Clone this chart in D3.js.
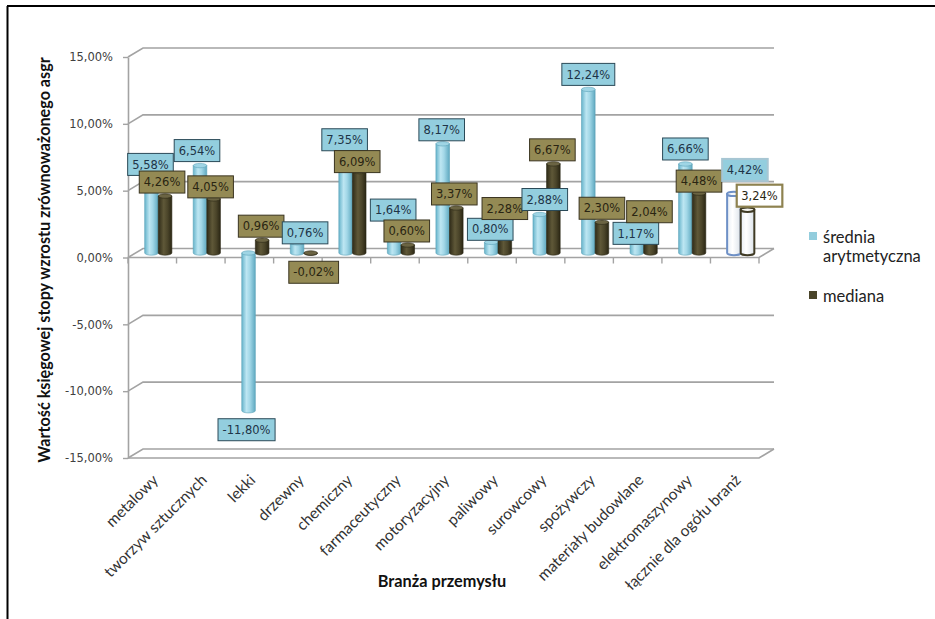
<!DOCTYPE html>
<html>
<head>
<meta charset="utf-8">
<script src="https://cdn.jsdelivr.net/npm/d3@7"></script>
<style>
  html, body { margin: 0; padding: 0; background: #fff; }
  svg { display: block; }
</style>
</head>
<body>
<svg id="chart" width="935" height="619"></svg>
<script>
// Industry sectors and the two series (percent values)
const categories = [
  "metalowy", "tworzyw sztucznych", "lekki", "drzewny", "chemiczny",
  "farmaceutyczny", "motoryzacyjny", "paliwowy", "surowcowy", "spożywczy",
  "materiały budowlane", "elektromaszynowy", "łącznie dla ogółu branż"
];
const srednia = [5.58, 6.54, -11.80, 0.76, 7.35, 1.64, 8.17, 0.80, 2.88, 12.24, 1.17, 6.66, 4.42];
const mediana = [4.26, 4.05, 0.96, -0.02, 6.09, 0.60, 3.37, 2.28, 6.67, 2.30, 2.04, 4.48, 3.24];
const seriesNames = ["średnia arytmetyczna", "mediana"];
const yTicks = [-15, -10, -5, 0, 5, 10, 15];
const yTitle = "Wartość księgowej stopy wzrostu zrównoważonego asgr";
const xTitle = "Branża przemysłu";

// Hand-placed nudges of the value boxes (px, from the end of each column)
const nudgeSrednia = [[-1,-14],[-3,-15],[-2,19],[8,-10],[-1,-15],[-1,-21],[-1,-14],[-1,-13],[5,-15],[0,-15],[-1,-4],[0,-15],[11,-24]];
const nudgeMediana = [[-3,-14],[-3,-12],[-1,-14],[3,19],[-2,-10],[-1,-14],[-2,-14],[0,-14],[-1,-14],[0,-14],[-1,-14],[0,-12],[12,-14]];

const svg = d3.select("#chart");
const locale = d3.formatLocale({decimal: ",", thousands: " ", grouping: [3], currency: ["", ""], minus: "-"});
const pct = v => locale.format(".2f")(v) + "%";

// Front plane scales; the back wall is shifted by (DX, DY)
const y = d3.scaleLinear().domain([-15, 15]).range([458, 57]);
const x = d3.scaleBand().domain(categories).range([128, 759]);
const DX = 15, DY = -9;          // depth of the 3D box
const MX = 6, MY = -4.5;         // column plane (middle depth)
const BW = 13.6;                 // column width
const RY = 2.2;                  // ellipse radius of column caps

// Frame
svg.append("line").attr("x1", 7).attr("x2", 935).attr("y1", 6).attr("y2", 6)
  .attr("stroke", "#000").attr("stroke-width", 2);
svg.append("line").attr("x1", 7.5).attr("x2", 7.5).attr("y1", 6).attr("y2", 619)
  .attr("stroke", "#000").attr("stroke-width", 2);

// Gradients
const defs = svg.append("defs");
function grad(id, stops) {
  const g = defs.append("linearGradient").attr("id", id).attr("x1", 0).attr("x2", 1).attr("y1", 0).attr("y2", 0);
  stops.forEach(([o, c]) => g.append("stop").attr("offset", o).attr("stop-color", c));
}
grad("gLight", [[0, "#67B4CB"], [0.35, "#BDE6F2"], [0.6, "#A2D7E7"], [1, "#5FA9C0"]]);
grad("gDark", [[0, "#2F2B18"], [0.4, "#5F5838"], [0.7, "#4A4429"], [1, "#2A2614"]]);
grad("gHollow", [[0, "#E8EEF4"], [0.4, "#FFFFFF"], [1, "#DCE3EA"]]);

const gridColor = "#A3A3A3";
const x0 = x.range()[0], x1 = x.range()[1];

// Back wall gridlines with their depth diagonals
const grid = svg.append("g");
yTicks.forEach(t => {
  const yy = y(t);
  grid.append("path")
    .attr("d", `M${x0},${yy} L${x0 + DX},${yy + DY} L${x1 + DX},${yy + DY}`)
    .attr("fill", "none").attr("stroke", gridColor).attr("stroke-width", 1.6);
});
// Floor at zero and at the bottom of the axis
[0, -15].forEach(t => {
  const yy = y(t);
  grid.append("path")
    .attr("d", `M${x0},${yy} L${x1},${yy} L${x1 + DX},${yy + DY}`)
    .attr("fill", "none").attr("stroke", gridColor).attr("stroke-width", 1.6);
});
// Category tick marks under the zero line
const bounds = categories.map(c => x(c)).concat([x1]);
grid.selectAll(".xtick").data(bounds).join("line")
  .attr("x1", d => d).attr("x2", d => d)
  .attr("y1", y(0)).attr("y2", y(0) + 6)
  .attr("stroke", gridColor).attr("stroke-width", 1.4);

// Cylinder drawing
function cylinder(g, cx, v, kind) {
  const yA = y(0) + MY, yB = y(v) + MY;
  const top = Math.min(yA, yB), bot = Math.max(yA, yB);
  const l = cx - BW / 2, r = cx + BW / 2, rx = BW / 2;
  let fill, stroke, capFill, sw;
  if (kind === "light") { fill = "url(#gLight)"; stroke = "#5DA3B9"; capFill = "#9FD5E5"; sw = 0.6; }
  else if (kind === "dark") { fill = "url(#gDark)"; stroke = "#2A2614"; capFill = "#6B6443"; sw = 0.6; }
  else if (kind === "hollowLight") { fill = "url(#gHollow)"; stroke = "#6E90C6"; capFill = "#F4F7FA"; sw = 2; }
  else { fill = "url(#gHollow)"; stroke = "#3F3A24"; capFill = "#F4F4F0"; sw = 2; }
  g.append("path")
    .attr("d", `M${l},${top} L${l},${bot} A${rx},${RY} 0 0 0 ${r},${bot} L${r},${top} Z`)
    .attr("fill", fill).attr("stroke", stroke).attr("stroke-width", sw);
  g.append("ellipse").attr("cx", cx).attr("cy", top).attr("rx", rx).attr("ry", RY)
    .attr("fill", capFill).attr("stroke", stroke).attr("stroke-width", sw);
}

const bars = svg.append("g");
categories.forEach((c, i) => {
  const base = x(c) + x.bandwidth() / 2 + MX;
  const last = i === categories.length - 1;
  cylinder(bars, base - BW / 2, srednia[i], last ? "hollowLight" : "light");
  cylinder(bars, base + BW / 2, mediana[i], last ? "hollowDark" : "dark");
});

// Front vertical axis with tick labels
const yAxis = d3.axisLeft(y).tickValues(yTicks).tickFormat(pct)
  .tickSizeInner(5).tickSizeOuter(0).tickPadding(10);
const ax = svg.append("g").attr("transform", `translate(${x0},0)`).call(yAxis);
ax.select(".domain").attr("stroke", gridColor).attr("stroke-width", 1.6);
ax.selectAll(".tick line").attr("stroke", gridColor).attr("stroke-width", 1.4);
ax.selectAll(".tick text").attr("fill", "#404040")
  .style("font-family", "'DejaVu Sans', Verdana, sans-serif").style("font-size", "11.5px");

// Value boxes
const labels = svg.append("g");
function valueBox(cx, v, nudge, style) {
  const endY = y(v) + MY;
  const px = cx + nudge[0], py = endY + nudge[1];
  const g = labels.append("g");
  const t = g.append("text").attr("x", px).attr("y", py).attr("dy", "0.36em")
    .attr("text-anchor", "middle")
    .style("font-family", "'DejaVu Sans', Verdana, sans-serif").style("font-size", "11.5px")
    .attr("fill", style.text).text(pct(v));
  const bb = t.node().getBBox();
  g.insert("rect", "text")
    .attr("x", px - bb.width / 2 - 4.5).attr("y", py - 11).attr("width", bb.width + 9).attr("height", 22)
    .attr("fill", style.fill).attr("stroke", style.stroke).attr("stroke-width", style.sw);
}
const stLight = {fill: "#93CEDE", stroke: "#2B4A58", sw: 1, text: "#1E3447"};
const stDark = {fill: "#948A54", stroke: "#3A3420", sw: 1, text: "#2A2512"};
const stLightLast = {fill: "#93CEDE", stroke: "#A7C6D3", sw: 2, text: "#1E3447"};
const stDarkLast = {fill: "#FFFFFF", stroke: "#8E8250", sw: 2.2, text: "#2A2512"};
categories.forEach((c, i) => {
  const base = x(c) + x.bandwidth() / 2 + MX;
  const last = i === categories.length - 1;
  valueBox(base - BW / 2, srednia[i], nudgeSrednia[i], last ? stLightLast : stLight);
  valueBox(base + BW / 2, mediana[i], nudgeMediana[i], last ? stDarkLast : stDark);
});

// Category labels, rotated
svg.append("g").selectAll("text").data(categories).join("text")
  .attr("transform", d => `translate(${x(d) + x.bandwidth() / 2 + 7},${481}) rotate(-45)`)
  .attr("text-anchor", "end")
  .style("font-family", "Lato, 'Open Sans', sans-serif").style("font-size", "15.5px")
  .attr("fill", "#333").text(d => d);

// Axis titles
svg.append("text").attr("transform", `translate(50,260) rotate(-90)`)
  .attr("text-anchor", "middle")
  .style("font-family", "Lato, 'Open Sans', sans-serif").style("font-size", "16.2px").style("font-weight", "bold")
  .attr("fill", "#111").text(yTitle);
svg.append("text").attr("x", 442).attr("y", 587).attr("text-anchor", "middle")
  .style("font-family", "Lato, 'Open Sans', sans-serif").style("font-size", "16.3px").style("font-weight", "bold")
  .attr("fill", "#111").text(xTitle);

// Legend
const legend = svg.append("g").style("font-family", "Lato, 'Open Sans', sans-serif").style("font-size", "16.5px");
const legendItems = [
  {name: seriesNames[0], color: "#93CDDD", lines: ["średnia", "arytmetyczna"], y: 243},
  {name: seriesNames[1], color: "#4A452A", lines: ["mediana"], y: 302}
];
legendItems.forEach(it => {
  legend.append("rect").attr("x", 809).attr("y", it.y - 11).attr("width", 8).attr("height", 8).attr("fill", it.color);
  const t = legend.append("text").attr("x", 823).attr("y", it.y).attr("fill", "#222");
  it.lines.forEach((ln, k) => t.append("tspan").attr("x", 823).attr("dy", k === 0 ? 0 : 19).text(ln));
});
</script>
</body>
</html>
